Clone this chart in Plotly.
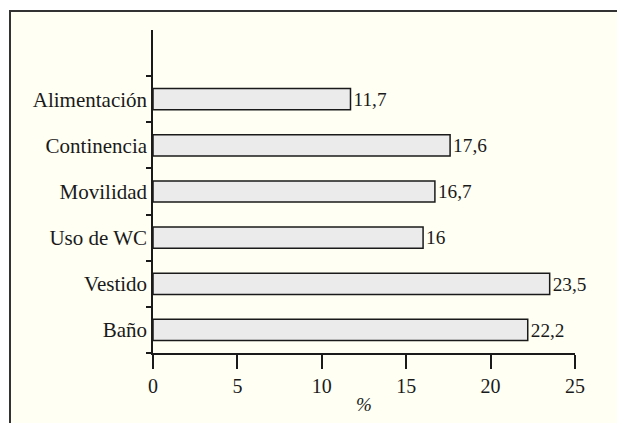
import plotly.graph_objects as go

categories = ["Baño", "Vestido", "Uso de WC", "Movilidad", "Continencia", "Alimentación"]
values = [22.2, 23.5, 16, 16.7, 17.6, 11.7]
x_ticks = [0, 5, 10, 15, 20, 25]
x_title = "%"

W, H = 617, 423
L, R, T, B = 153, 42, 30, 70
pw, ph = W - L - R, H - T - B

def px_x(p):
    return (p - L) / pw

def px_y(p):
    return (H - B - p) / ph

cream = "#FFFFF3"
ink = "#1a1a1a"
font = "Liberation Serif"

fig = go.Figure(go.Bar(
    y=categories, x=values, orientation="h",
    marker=dict(color="#EBEBEB", line=dict(color=ink, width=1.5)),
    width=0.46,
    texttemplate="%{x}", textposition="outside",
    textfont=dict(family=font, size=20, color=ink),
    cliponaxis=False,
))

fig.update_layout(
    width=W, height=H,
    margin=dict(l=L, r=R, t=T, b=B, pad=0),
    paper_bgcolor=cream, plot_bgcolor=cream,
    separators=",.",
    showlegend=False,
    font=dict(family=font, size=20, color=ink),
    xaxis=dict(
        range=[0, 25], tickvals=x_ticks, ticks="outside", ticklen=14,
        tickwidth=1.5, tickcolor=ink, showline=True, linecolor=ink,
        linewidth=1.5, showgrid=False, zeroline=False, fixedrange=True,
        tickfont=dict(family=font, size=20, color=ink),
        title=dict(text="<i>" + x_title + "</i>", standoff=2,
                   font=dict(family=font, size=19, color=ink)),
    ),
    yaxis=dict(
        type="category", categoryorder="array", categoryarray=categories,
        range=[-0.5, 6.5], ticks="outside", ticklen=5, tickwidth=1.5,
        tickcolor=ink, tickson="boundaries", showline=True, linecolor=ink,
        linewidth=1.5, showgrid=False, zeroline=False,
        tickfont=dict(family=font, size=21, color=ink),
    ),
    shapes=[
        dict(type="rect", xref="paper", yref="paper", x0=px_x(-5), x1=px_x(W + 5),
             y0=px_y(10.5), y1=px_y(-5), fillcolor="white", line_width=0, layer="above"),
        dict(type="rect", xref="paper", yref="paper", x0=px_x(-5), x1=px_x(9.5),
             y0=px_y(H + 5), y1=px_y(-5), fillcolor="white", line_width=0, layer="above"),
        dict(type="line", xref="paper", yref="paper", x0=px_x(9.5), x1=px_x(W + 5),
             y0=px_y(11), y1=px_y(11), line=dict(color="#333333", width=2), layer="above"),
        dict(type="line", xref="paper", yref="paper", x0=px_x(10), x1=px_x(10),
             y0=px_y(10), y1=px_y(H + 5), line=dict(color="#333333", width=2), layer="above"),
    ],
)

fig.write_html(
    "out.html",
    config={"displayModeBar": False},
    post_script="document.body.style.margin='0';document.body.style.overflow='hidden';",
)
